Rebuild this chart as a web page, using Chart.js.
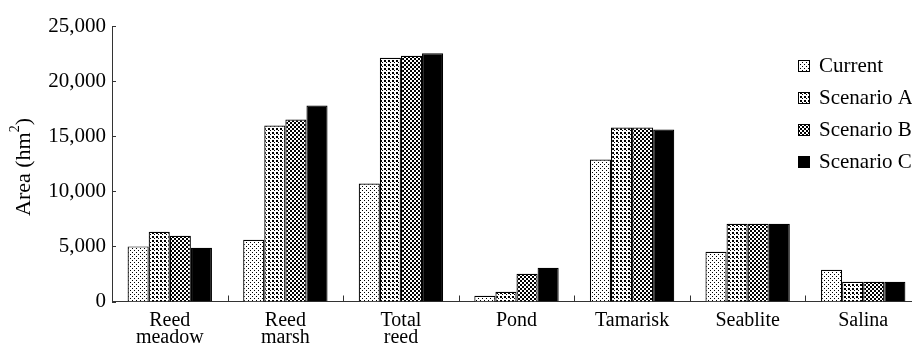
<!DOCTYPE html>
<html>
<head>
<meta charset="utf-8">
<style>
  html, body { margin: 0; padding: 0; background: #fff; overflow: hidden; }
  #wrap { width: 921px; height: 346px; }
</style>
<script src="https://cdn.jsdelivr.net/npm/chart.js@4/dist/chart.umd.min.js"></script>
</head>
<body>
<div id="wrap"><canvas id="c" width="921" height="346"></canvas></div>
<script>
// values (hm2)
const categories = [['Reed', 'meadow'], ['Reed', 'marsh'], ['Total', 'reed'], 'Pond', 'Tamarisk', 'Seablite', 'Salina'];
const seriesNames = ['Current', 'Scenario A', 'Scenario B', 'Scenario C'];
const current   = [5000, 5600, 10700, 520, 12880, 4520, 2880];
const scenarioA = [6330, 15970, 22120, 880, 15790, 7060, 1790];
const scenarioB = [5970, 16520, 22300, 2520, 15790, 7060, 1790];
const scenarioC = [4880, 17790, 22520, 3060, 15610, 7060, 1790];
const yTicks = [0, 5000, 10000, 15000, 20000, 25000];

const FONT = '"Liberation Serif", "Times New Roman", serif';

// little dot patterns like the print version
function makePattern(dots) {
  const t = document.createElement('canvas');
  t.width = 4; t.height = 4;
  const g = t.getContext('2d');
  g.fillStyle = '#fff';
  g.fillRect(0, 0, 4, 4);
  g.fillStyle = '#000';
  dots.forEach(d => g.fillRect(d[0], d[1], 1, 1));
  return document.getElementById('c').getContext('2d').createPattern(t, 'repeat');
}
const fills = [
  makePattern([[0, 0], [2, 2]]),
  makePattern([[0, 0], [1, 0], [0, 1], [1, 1], [2, 2]]),
  makePattern([[0, 0], [1, 0], [0, 1], [1, 1], [2, 2], [3, 2], [2, 3], [3, 3]]),
  '#000'
];

const allSeries = [current, scenarioA, scenarioB, scenarioC];

// inward tick marks, y-axis title and legend drawn by hand
const extras = {
  id: 'extras',
  afterDraw(chart) {
    const ctx = chart.ctx;
    const x = chart.scales.x, y = chart.scales.y;
    const area = chart.chartArea;
    ctx.save();
    ctx.strokeStyle = '#333';
    ctx.lineWidth = 1;
    ctx.beginPath();
    yTicks.forEach(v => {
      const py = Math.round(y.getPixelForValue(v)) + 0.5;
      ctx.moveTo(area.left, py);
      ctx.lineTo(area.left + 4, py);
    });
    const step = x.getPixelForValue(1) - x.getPixelForValue(0);
    for (let i = 0; i < categories.length - 1; i++) {
      const px = Math.round(x.getPixelForValue(i) + step / 2) + 0.5;
      ctx.moveTo(px, area.bottom);
      ctx.lineTo(px, area.bottom - 6);
    }
    ctx.stroke();

    // axis title with superscript
    ctx.translate(24, 167);
    ctx.rotate(-Math.PI / 2);
    ctx.fillStyle = '#000';
    ctx.textBaseline = 'middle';
    ctx.font = '22px ' + FONT;
    const a = 'Area (hm', b = '2', c = ')';
    const wa = ctx.measureText(a).width, wc = ctx.measureText(c).width;
    ctx.font = '14px ' + FONT;
    const wb = ctx.measureText(b).width;
    let sx = -(wa + wb + wc) / 2;
    ctx.font = '22px ' + FONT;
    ctx.fillText(a, sx, 0);
    ctx.font = '14px ' + FONT;
    ctx.fillText(b, sx + wa, -9);
    ctx.font = '22px ' + FONT;
    ctx.fillText(c, sx + wa + wb, 0);
    ctx.restore();

    // legend
    ctx.save();
    ctx.font = '21px ' + FONT;
    ctx.textBaseline = 'middle';
    seriesNames.forEach((name, i) => {
      const cy = 66 + i * 32;
      ctx.fillStyle = fills[i];
      ctx.fillRect(798, cy - 6, 12, 12);
      ctx.strokeStyle = '#000';
      ctx.strokeRect(798.5, cy - 5.5, 11, 11);
      ctx.fillStyle = '#000';
      ctx.fillText(name, 819, cy);
    });
    ctx.restore();
  }
};

new Chart(document.getElementById('c'), {
  type: 'bar',
  data: {
    labels: categories,
    datasets: allSeries.map((d, i) => ({
      label: seriesNames[i],
      data: d,
      backgroundColor: fills[i],
      borderColor: '#000',
      borderWidth: 1.2,
      borderSkipped: 'bottom',
      barPercentage: 1,
      categoryPercentage: 0.73
    }))
  },
  options: {
    responsive: false,
    animation: false,
    layout: { padding: { top: 26, left: 0, right: 0, bottom: 0 } },
    plugins: { legend: { display: false }, tooltip: { enabled: false } },
    scales: {
      x: {
        grid: { display: false },
        border: { display: true, color: '#333', width: 1 },
        ticks: { color: '#000', font: { family: FONT, size: 20, lineHeight: '17px' }, padding: 3, maxRotation: 0, autoSkip: false },
        afterFit(s) { s.height = 44.5; }
      },
      y: {
        min: 0,
        max: 25000,
        afterBuildTicks(s) { s.ticks = yTicks.map(v => ({ value: v })); },
        grid: { display: false },
        border: { display: true, color: '#333', width: 1 },
        ticks: {
          color: '#000',
          font: { family: FONT, size: 21 },
          padding: -2,
          callback: v => v.toLocaleString('en-US')
        },
        afterFit(s) { s.width = 112; }
      }
    }
  },
  plugins: [extras]
});
</script>
</body>
</html>
